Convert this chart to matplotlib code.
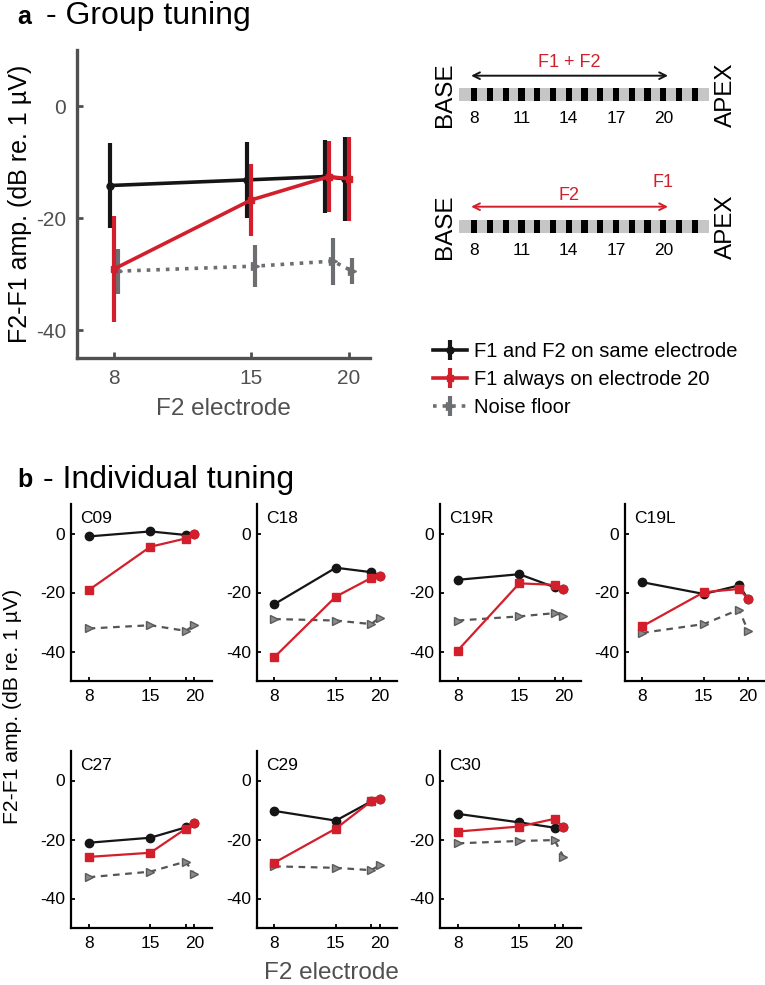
import numpy as np
import matplotlib
matplotlib.use("Agg")
import matplotlib.pyplot as plt
from matplotlib.patches import Rectangle

plt.rcParams['font.family'] = ['Liberation Sans', 'DejaVu Sans']
plt.rcParams['axes.unicode_minus'] = False

# %% data
electrodes = [8, 15, 19, 20]
group_ticks = [8, 15, 20]

group_same = [-14.2, -13.2, -12.6, -13.0]
group_same_err = [7.6, 6.8, 6.5, 7.5]
group_f1_20 = [-29.1, -16.8, -12.6, -13.0]
group_f1_20_err = [9.4, 6.4, 6.3, 7.5]
group_noise = [-29.5, -28.6, -27.7, -29.5]
group_noise_err = [4.0, 3.7, 4.2, 2.3]

subjects = ['C09', 'C18', 'C19R', 'C19L', 'C27', 'C29', 'C30']
same_electrode = [
    [-1.0, 0.7, -0.5, -0.2],
    [-24.0, -11.6, -13.1, -14.4],
    [-15.7, -13.8, -18.2, -18.8],
    [-16.5, -20.5, -17.6, -22.1],
    [-21.1, -19.4, -15.9, -14.3],
    [-10.3, -13.6, -7.1, -6.2],
    [-11.3, -14.2, -16.0, -15.9],
]
f1_on_20 = [
    [-19.2, -4.5, -1.7, -0.2],
    [-42.0, -21.4, -15.1, -14.4],
    [-39.7, -16.9, -17.4, -18.8],
    [-31.5, -19.9, -18.8, -22.1],
    [-25.9, -24.5, -16.4, -14.3],
    [-27.9, -16.3, -7.1, -6.2],
    [-17.3, -15.6, -13.0, -15.9],
]
noise = [
    [-32.2, -31.1, -33.0, -31.1],
    [-29.0, -29.5, -30.7, -28.5],
    [-29.5, -28.1, -27.0, -27.8],
    [-33.7, -30.7, -25.8, -32.9],
    [-32.8, -30.9, -27.5, -31.7],
    [-29.1, -29.6, -30.4, -28.7],
    [-21.3, -20.5, -20.2, -25.8],
]

diagram_electrodes = list(range(8, 23))
diagram_labels = [8, 11, 14, 17, 20]

legend_labels = ['F1 and F2 on same electrode', 'F1 always on electrode 20', 'Noise floor']
ylab = 'F2-F1 amp. (dB re. 1 \u00b5V)'

# %% style
RED = '#d31f2b'
BLACK = '#151515'
GRAY = '#6d6e71'
AXGRAY = '#505050'
W, H = 765, 985


def fx(px):
    return px / W


def fy(py):
    return 1 - py / H


fig = plt.figure(figsize=(W / 100, H / 100), dpi=100)

# %% panel a
ax = fig.add_axes([fx(77), fy(358), (370 - 77) / W, (358 - 50) / H])
x = np.array(electrodes, dtype=float)
eb_noise = ax.errorbar(x + 0.2, group_noise, yerr=group_noise_err, color=GRAY, ls=':', lw=2.6,
                       marker='>', ms=6, elinewidth=3, capsize=0, zorder=1)
eb_same = ax.errorbar(x - 0.2, group_same, yerr=group_same_err, color=BLACK, lw=2.6,
                      marker='o', ms=5, elinewidth=3, capsize=0, zorder=2)
eb_red = ax.errorbar(x, group_f1_20, yerr=group_f1_20_err, color=RED, lw=2.6,
                     marker='s', ms=5, elinewidth=3, capsize=0, zorder=3)
ax.set_xlim(6.1, 21.1)
ax.set_ylim(-45, 10)
ax.set_xticks(group_ticks)
ax.set_yticks([-40, -20, 0])
for s in ['top', 'right']:
    ax.spines[s].set_visible(False)
for s in ['left', 'bottom']:
    ax.spines[s].set_color(AXGRAY)
    ax.spines[s].set_linewidth(2.4)
ax.tick_params(direction='in', length=4, width=2, color=AXGRAY, labelcolor=AXGRAY,
               labelsize=15, pad=8)
ax.set_ylabel(ylab, fontsize=18)
ax.yaxis.set_label_coords(-0.155, 0.5)
ax.set_xlabel('F2 electrode', fontsize=17.5, color=AXGRAY)
ax.xaxis.set_label_coords(0.5, -0.13)

fig.text(fx(17), fy(24), 'a', fontsize=18, fontweight='bold', va='baseline')
fig.text(fx(46), fy(24), '- Group tuning', fontsize=23, va='baseline')

# %% electrode diagrams
axd = fig.add_axes([fx(430), fy(280), (760 - 430) / W, (280 - 30) / H])
axd.set_xlim(5.19, 26.14)
axd.set_ylim(280, 30)
axd.axis('off')
diagrams = [
    dict(band=94.3, arrow=75.7, color=BLACK, texts=[('F1 + F2', 14, 62.3)]),
    dict(band=226.7, arrow=206.7, color=RED, texts=[('F2', 14, 195.7), ('F1', 20, 182.7)]),
]
for d in diagrams:
    axd.add_patch(Rectangle((7.03, d['band'] - 6.7), 15.9, 13.4, color='#c6c6c6', lw=0))
    axd.bar(diagram_electrodes, 13.4, bottom=d['band'] - 6.7, width=0.4, color='black')
    for e in diagram_labels:
        axd.text(e, d['band'] + 24, str(e), ha='center', va='center', fontsize=12.5)
    axd.annotate('', xy=(7.8, d['arrow']), xytext=(20.3, d['arrow']),
                 arrowprops=dict(arrowstyle='<->', color=d['color'], lw=1.4,
                                 shrinkA=0, shrinkB=0, mutation_scale=12))
    for t, tx, ty in d['texts']:
        axd.text(tx, ty, t, color=RED, ha='center', va='center', fontsize=13)
    axd.text(6.14, d['band'], 'BASE', rotation=90, ha='center', va='center', fontsize=17.5)
    axd.text(23.98, d['band'], 'APEX', rotation=90, ha='center', va='center', fontsize=17.5)

fig.legend([eb_same, eb_red, eb_noise], legend_labels, loc='upper left',
           bbox_to_anchor=(fx(433), fy(342)), frameon=False, fontsize=14.5,
           handlelength=1.7, handletextpad=0.35, labelspacing=0.45,
           borderaxespad=0, borderpad=0)

# %% panel b
fig.text(fx(17), fy(487), 'b', fontsize=18, fontweight='bold', va='baseline')
fig.text(fx(43), fy(488), '- Individual tuning', fontsize=23, va='baseline')

lefts = [71, 256.5, 440, 624.5]
bottoms = [681, 928]
for i, name in enumerate(subjects):
    r, c = divmod(i, 4)
    axi = fig.add_axes([fx(lefts[c]), fy(bottoms[r]), 141 / W, 177 / H])
    axi.plot(electrodes, noise[i], color='#555555', ls=(0, (3, 2.5)), lw=1.6,
             marker='>', ms=6, mfc='#8a8a8a', mec='#5a5a5a', mew=1, zorder=1)
    axi.plot(electrodes, same_electrode[i], color=BLACK, lw=1.6, marker='o', ms=6, zorder=2)
    axi.plot(electrodes, f1_on_20[i], color=RED, lw=1.6, zorder=3)
    axi.plot(electrodes[:-1], f1_on_20[i][:-1], ls='none', marker='s', ms=5.5, color=RED, zorder=4)
    axi.plot(electrodes[-1:], f1_on_20[i][-1:], ls='none', marker='o', ms=6, color=RED, zorder=4)
    axi.set_xlim(6, 22)
    axi.set_ylim(-50, 10)
    axi.set_xticks(electrodes)
    axi.set_xticklabels(['8', '15', '', '20'])
    axi.set_yticks([-40, -20, 0])
    for s in ['top', 'right']:
        axi.spines[s].set_visible(False)
    for s in ['left', 'bottom']:
        axi.spines[s].set_linewidth(1.6)
    axi.tick_params(direction='in', length=3, width=1.3, labelsize=12.5)
    axi.tick_params(axis='y', pad=4)
    axi.tick_params(axis='x', pad=6)
    axi.text(0.066, 0.918, name, transform=axi.transAxes, fontsize=12.5, va='center')

fig.text(fx(13), fy(706), ylab, rotation=90, ha='center', va='center', fontsize=15.2)
fig.text(fx(331), fy(984), 'F2 electrode', ha='center', va='bottom', fontsize=17.5,
         color=AXGRAY)

fig.savefig('out.png', dpi=100)
